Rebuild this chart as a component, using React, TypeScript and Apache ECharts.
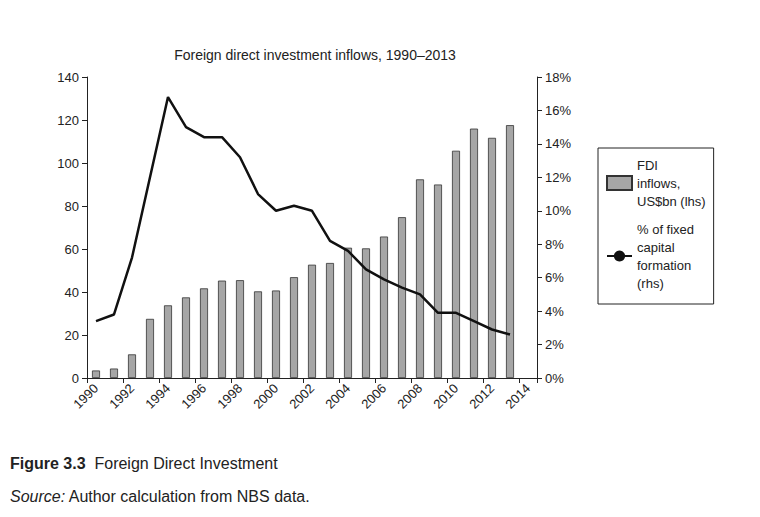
import { useEffect, useRef } from "react";
import * as echarts from "echarts";

const YEARS = Array.from({ length: 25 }, (_, i) => String(1990 + i));
const FDI = [3.5, 4.4, 11, 27.5, 33.8, 37.5, 41.7, 45.3, 45.5, 40.3, 40.7, 46.9, 52.7, 53.5, 60.6, 60.3, 65.8, 74.8, 92.4, 90, 105.7, 116, 111.7, 117.6];
const SHARE = [3.4, 3.8, 7.2, 12, 16.8, 15, 14.4, 14.4, 13.2, 11, 10, 10.3, 10, 8.2, 7.6, 6.5, 5.9, 5.4, 5, 3.9, 3.9, 3.4, 2.9, 2.6];

const FONT = "Liberation Sans, Arial, sans-serif";

export default function App() {
  const ref = useRef<HTMLDivElement>(null);

  useEffect(() => {
    if (!ref.current) return;
    document.body.style.margin = "0";
    const chart = echarts.init(ref.current, undefined, { renderer: "svg" });
    const axisBase = {
      axisLine: { show: true, lineStyle: { color: "#222" } },
      axisTick: { show: true, lineStyle: { color: "#222" } },
      splitLine: { show: false },
      axisLabel: { color: "#222", fontSize: 13, fontFamily: FONT },
    };
    chart.setOption({
      animation: false,
      textStyle: { fontFamily: FONT },
      title: {
        text: "Foreign direct investment inflows, 1990\u20132013",
        left: 310,
        textAlign: "center",
        top: 43,
        textStyle: { fontSize: 14, fontWeight: "normal", color: "#222" },
      },
      grid: { left: 87, right: 223, top: 77, bottom: 139 },
      legend: {
        orient: "vertical",
        left: 598,
        top: 148,
        width: 145,
        padding: [8, 8, 12, 8],
        itemGap: 10,
        borderColor: "#222",
        borderWidth: 1,
        textStyle: { fontSize: 13, color: "#222", lineHeight: 18 },
        data: [
          { name: "FDI\ninflows,\nUS$bn (lhs)", icon: "rect" },
          { name: "% of fixed\ncapital\nformation\n(rhs)" },
        ],
      },
      xAxis: {
        type: "category",
        data: YEARS,
        ...axisBase,
        axisTick: { show: true, interval: 1, lineStyle: { color: "#222" } },
        axisLabel: { ...axisBase.axisLabel, interval: 1, rotate: 45, margin: 8 },
      },
      yAxis: [
        { type: "value", min: 0, max: 140, interval: 20, ...axisBase },
        {
          type: "value",
          min: 0,
          max: 18,
          interval: 2,
          position: "right",
          ...axisBase,
          axisLabel: { ...axisBase.axisLabel, formatter: "{value}%" },
        },
      ],
      series: [
        {
          name: "FDI\ninflows,\nUS$bn (lhs)",
          type: "bar",
          data: FDI,
          barWidth: 8,
          itemStyle: { color: "#a6a6a6", borderColor: "#333", borderWidth: 0.8 },
        },
        {
          name: "% of fixed\ncapital\nformation\n(rhs)",
          type: "line",
          yAxisIndex: 1,
          data: SHARE,
          symbol: "none",
          lineStyle: { color: "#111", width: 2.5 },
          itemStyle: { color: "#111" },
        },
      ],
      graphic: [
        {
          type: "text",
          left: 10,
          top: 455,
          style: {
            text: "{b|Figure 3.3}  Foreign Direct Investment",
            fontSize: 16,
            fill: "#222",
            fontFamily: "Liberation Sans Narrow, Arial Narrow, Liberation Sans, sans-serif",
            rich: { b: { fontWeight: "bold", fontSize: 16, fontFamily: "Liberation Sans Narrow, Arial Narrow, Liberation Sans, sans-serif" } },
          },
        },
        {
          type: "text",
          left: 10,
          top: 488,
          style: {
            text: "{i|Source:} Author calculation from NBS data.",
            fontSize: 16,
            fill: "#222",
            fontFamily: "Liberation Sans Narrow, Arial Narrow, Liberation Sans, sans-serif",
            rich: { i: { fontStyle: "italic", fontSize: 16, fontFamily: "Liberation Sans Narrow, Arial Narrow, Liberation Sans, sans-serif" } },
          },
        },
      ],
    });
    return () => chart.dispose();
  }, []);

  return <div ref={ref} style={{ width: 760, height: 517 }} />;
}
